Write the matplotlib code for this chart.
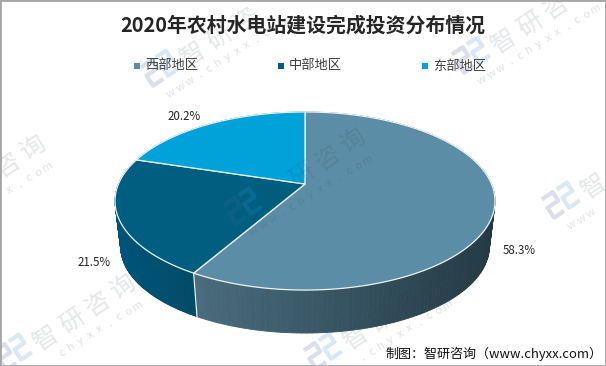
import matplotlib
matplotlib.use("Agg")
import matplotlib.pyplot as plt
import numpy as np
from matplotlib.colors import to_rgb

plt.rcParams['font.family'] = ['Noto Sans CJK SC', 'DejaVu Sans']

title = '2020年农村水电站建设完成投资分布情况'
source = '制图：智研咨询（www.chyxx.com）'
categories = ['西部地区', '中部地区', '东部地区']
values = [58.3, 21.5, 20.2]
colors = ['#5b8ea6', '#005f81', '#00a2da']
side_left = ['#4a6c7e', '#00547a', '#00739c']
side_right = ['#233a44', '#004a66', '#00739c']
mark_cn = '智研咨询'
mark_en = 'www.chyxx.com'

# perspective of the pie, in pixels
apex_x, apex_y = 305, 184
a, b, k = 186.5, 85.8, 0.191
depth_scale, depth_shift = 0.97, 51.7


def rim(theta):
    u, v = np.sin(theta), np.cos(theta)
    w = 1 + k * v
    return apex_x + a * u / w, apex_y - b * v / w


def lower(x, y):
    return apex_x + (x - apex_x) * depth_scale, y * depth_scale + depth_shift


def spaced(text, cx, cy, pitch, angle, **kw):
    # letter spaced text along a slanted line, skip what falls off the picture
    c, s = np.cos(np.radians(angle)), np.sin(np.radians(angle))
    for n, ch in enumerate(text):
        d = (n - (len(text) - 1) / 2) * pitch
        x, y = cx + d * c, cy - d * s
        if 5 < x < 598 and 5 < y < 358:
            ax.text(x, y, ch, rotation=angle, ha='center', va='center', zorder=5, **kw)


def logo(cx, cy, angle):
    # the little mark in front of the watermark
    c, s = np.cos(np.radians(angle)), np.sin(np.radians(angle))
    parts = [([-15, -2, -2, -15, -15, -3], [-12, -12, -2, -2, 10, 10], '#4a5f9c'),
             ([3, 15, 15, 3, 3, 16], [-12, -12, -2, -2, 10, 10], '#3f8fd8')]
    for px, py, col in parts:
        px, py = np.array(px), np.array(py)
        ax.plot(cx + px * c + py * s, cy - px * s + py * c, color=col, lw=3, alpha=0.2,
                solid_capstyle='butt', zorder=5)


fig = plt.figure(figsize=(6.06, 3.66), dpi=100)
ax = fig.add_axes([0, 0, 1, 1])
ax.set_xlim(0, 606)
ax.set_ylim(366, 0)
ax.axis('off')

edges = np.cumsum([0] + values) / sum(values) * 2 * np.pi

# side wall
for i in range(len(values)):
    th = np.linspace(edges[i], edges[i + 1], 160)
    x, y = rim(th)
    lx, ly = lower(x, y)
    c0, c1 = np.array(to_rgb(side_left[i])), np.array(to_rgb(side_right[i]))
    x_min, x_max = x.min(), x.max()
    for j in range(len(th) - 1):
        # back of the wall is hidden by the top face anyway
        if ly[j] < y[j]:
            continue
        t = ((x[j] + x[j + 1]) / 2 - x_min) / (x_max - x_min)
        col = c0 + (c1 - c0) * t
        ax.fill([x[j], x[j + 1], lx[j + 1], lx[j]], [y[j], y[j + 1], ly[j + 1], ly[j]],
                color=col, lw=0.6, zorder=2)

# seam between west and middle on the wall
sx, sy = rim(edges[1])
slx, sly = lower(sx, sy)
ax.plot([sx, slx], [sy, sly], color='#e8eef2', lw=0.9, zorder=3)

# top face
for i in range(len(values)):
    th = np.linspace(edges[i], edges[i + 1], 200)
    x, y = rim(th)
    ax.fill(np.r_[apex_x, x], np.r_[apex_y, y], facecolor=colors[i], edgecolor='#eef3f6',
            lw=0.9, zorder=4)

ax.text(303, 25, title, ha='center', va='center', fontsize=14.3, fontweight='bold',
        color='#262626', zorder=6)

legend_x = [137, 281, 425]
for name, col, lx in zip(categories, colors, legend_x):
    ax.scatter([lx], [66], marker='s', s=14, color=col, lw=0, zorder=6)
    ax.text(lx + 8, 66, name, ha='left', va='center', fontsize=9.5, color='#404040', zorder=6)

label_pos = [(519, 251), (94, 262), (184, 117)]
for v, (lx, ly) in zip(values, label_pos):
    ax.text(lx, ly, f'{v}%', ha='center', va='center', fontsize=8.3, fontweight='medium',
            color='#262626', zorder=6)

ax.text(602, 354, source, ha='right', va='center', fontsize=9.4, color='#111111', zorder=7)

# watermark, one centre per repeat
marks = [(-5, 174), (315, 167), (633, 161), (232, 29), (543, 16), (85, 313), (395, 312)]
for wx, wy in marks:
    spaced(mark_cn, wx, wy, 31, 34, fontsize=18, color='#30404e', alpha=0.13)
    spaced(mark_en, wx - 4, wy + 28, 11.2, 32, fontsize=8, color='#30404e', alpha=0.16)
    logo(wx - 72, wy + 40, 34)

fig.patches.append(plt.Rectangle((0, 0), 1, 1, transform=fig.transFigure, fill=False,
                                 edgecolor='#a6a6a6', lw=2))
fig.savefig('out.png', dpi=100)
